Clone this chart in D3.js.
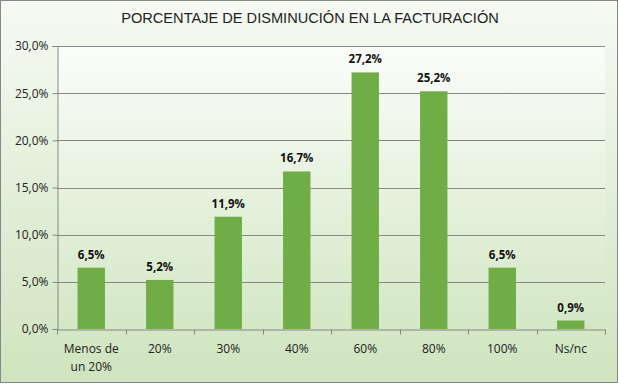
<!DOCTYPE html>
<html><head><meta charset="utf-8">
<script src="https://cdn.jsdelivr.net/npm/d3@7"></script>
<style>body{margin:0;background:#fff}svg{display:block}</style>
</head><body>
<script>
const categories = ["Menos de|un 20%", "20%", "30%", "40%", "60%", "80%", "100%", "Ns/nc"];
const values = [6.5, 5.2, 11.9, 16.7, 27.2, 25.2, 6.5, 0.9];
const yTicks = [0, 5, 10, 15, 20, 25, 30];
const title = "PORCENTAJE DE DISMINUCIÓN EN LA FACTURACIÓN";

const W = 619, H = 386;
const m = {left: 57, right: 14, top: 46, bottom: 57};
const svg = d3.select("body").append("svg").attr("width", W).attr("height", H);
const defs = svg.append("defs");
const g1 = defs.append("linearGradient").attr("id","bgc").attr("x1",0).attr("y1",0).attr("x2",0).attr("y2",1);
g1.append("stop").attr("offset","0%").attr("stop-color","#f6faf3");
g1.append("stop").attr("offset","100%").attr("stop-color","#cfe4bf");
const g2 = defs.append("linearGradient").attr("id","bgp").attr("x1",0).attr("y1",0).attr("x2",0).attr("y2",1);
g2.append("stop").attr("offset","0%").attr("stop-color","#fbfdf9");
g2.append("stop").attr("offset","100%").attr("stop-color","#d3e7c5");

svg.append("rect").attr("x",0.5).attr("y",0.5).attr("width",W-2).attr("height",H-4)
  .attr("fill","url(#bgc)").attr("stroke","#888").attr("stroke-width",1);

const x = d3.scaleBand().domain(categories).range([m.left, W - m.right]).paddingInner(0.6).paddingOuter(0.3);
const y = d3.scaleLinear().domain([0, 30]).range([H - m.bottom, m.top]);

svg.append("rect").attr("x", m.left).attr("y", m.top).attr("width", W - m.right - m.left).attr("height", H - m.bottom - m.top)
  .attr("fill","url(#bgp)");

// gridlines
svg.append("g").selectAll("line").data(yTicks.filter(d=>d>0)).join("line")
  .attr("x1", m.left).attr("x2", W - m.right)
  .attr("y1", d => Math.round(y(d))+0.5).attr("y2", d => Math.round(y(d))+0.5)
  .attr("stroke","#878787").attr("stroke-width",1);

// bars
svg.append("g").selectAll("rect").data(values).join("rect")
  .attr("x", (d,i) => x(categories[i])).attr("width", x.bandwidth())
  .attr("y", d => y(d)).attr("height", d => y(0) - y(d))
  .attr("fill","#70ad47");

// value labels
svg.append("g").selectAll("text").data(values).join("text")
  .attr("x", (d,i) => x(categories[i]) + x.bandwidth()/2)
  .attr("y", d => y(d) - 9)
  .attr("text-anchor","middle").attr("font-family","Open Sans, sans-serif").attr("font-weight","bold")
  .attr("font-size","11.5px").attr("fill","#111")
  .text(d => d.toFixed(1).replace(".", ",") + "%");

// y axis
const fmt = d => d.toFixed(1).replace(".", ",") + "%";
const ya = svg.append("g").attr("transform",`translate(${m.left+0.5},0)`)
  .call(d3.axisLeft(y).tickValues(yTicks).tickSize(5).tickFormat(fmt));
ya.select(".domain").attr("stroke","#878787");
ya.selectAll(".tick line").attr("stroke","#878787");
ya.selectAll("text").attr("font-family","Open Sans, sans-serif").attr("font-size","12px").attr("fill","#222").attr("dx","-1");

// x axis
const xa = svg.append("g").attr("transform",`translate(0,${Math.round(y(0))+0.5})`)
  .call(d3.axisBottom(x).tickSize(0).tickFormat(""));
xa.select(".domain").attr("stroke","#878787");
const edges = d3.range(categories.length+1).map(i => m.left + i * (W - m.right - m.left)/categories.length);
xa.append("g").selectAll("line").data(edges).join("line")
  .attr("x1", d=>Math.round(d)+0.5).attr("x2", d=>Math.round(d)+0.5).attr("y1",0).attr("y2",5).attr("stroke","#878787");
xa.selectAll(".tick").each(function(d){
  const parts = d.split("|");
  const t = d3.select(this).append("text").attr("fill","#222").attr("font-family","Open Sans, sans-serif")
    .attr("font-size","12px").attr("text-anchor","middle").attr("y", 23);
  parts.forEach((p,i)=> t.append("tspan").attr("x",0).attr("dy", i===0?0:18).text(p));
});

svg.append("text").attr("x", 310).attr("y", 23).attr("text-anchor","middle")
  .attr("font-family","Liberation Sans, Arial, sans-serif").attr("font-size","14.6px").attr("fill","#222").text(title);
</script>
</body></html>
